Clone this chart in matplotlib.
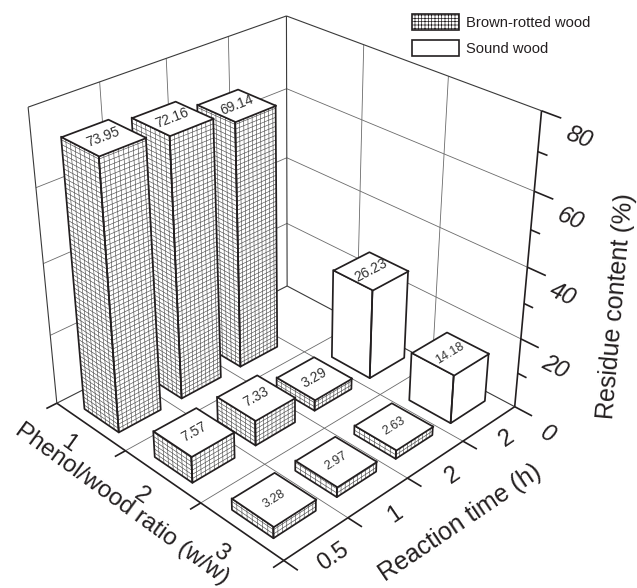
import numpy as np
import matplotlib
matplotlib.use("Agg")
import matplotlib.pyplot as plt
from matplotlib.patches import Patch
from mpl_toolkits.mplot3d import proj3d
from mpl_toolkits.mplot3d.art3d import Poly3DCollection, Line3DCollection

plt.rcParams['font.family'] = ['Liberation Sans', 'DejaVu Sans']
plt.rcParams['hatch.linewidth'] = 0.5

# ---- data
ratio_labels = ['1', '2', '3']
time_labels = ['0.5', '1', '2', '2']
ratio1_values = [73.95, 72.16, 69.14, None]
ratio2_values = [7.57, 7.33, 3.29, 26.23]
ratio3_values = [3.28, 2.97, 2.63, 14.18]
ratio1_kinds = ['brown', 'brown', 'brown', None]
ratio2_kinds = ['brown', 'brown', 'brown', 'sound']
ratio3_kinds = ['brown', 'brown', 'brown', 'sound']
z_ticks = [0, 20, 40, 60, 80]
z_minor = [10, 30, 50, 70]
legend_labels = ['Brown-rotted wood', 'Sound wood']

W, H = 637, 588
INK = '#231f20'
fig = plt.figure(figsize=(W / 100, H / 100), dpi=100)
ax = fig.add_axes([0, (H - W) / 2 / H, 1, W / H], projection='3d', computed_zorder=False)
ax.set_axis_off()
ax.apply_aspect()

# ---- camera of the reference: (x along ratio, y along time, z value) -> picture pixel
camera_world = np.array([
    (0, 0, 0), (3, 0, 0), (3, 4, 0), (0, 4, 0), (0, 0, 80), (3, 4, 80), (0, 4, 80),
    (1, 0, 0), (2, 0, 0), (3, 1, 0), (3, 2, 0), (3, 3, 0)], float)
camera_pixel = np.array([
    (57, 403), (283, 560), (513, 406), (287, 287), (28, 108), (541, 111), (287, 15),
    (125, 450), (200, 502), (350, 520), (407, 478), (465, 441)], float)
view = ax.transData.inverted().transform(np.c_[camera_pixel[:, 0], H - camera_pixel[:, 1]])
rows, rhs = [], []
for (x, y, z), (u, v) in zip(camera_world, view):
    rows.append([x, y, z, 1, 0, 0, 0, 0, -u * x, -u * y, -u * z]); rhs.append(u)
    rows.append([0, 0, 0, 0, x, y, z, 1, -v * x, -v * y, -v * z]); rhs.append(v)
p = np.linalg.lstsq(np.array(rows), np.array(rhs), rcond=None)[0]
M = np.array([[p[0], p[1], p[2], p[3]],
              [p[4], p[5], p[6], p[7]],
              [0, 0, 0, 1.0],
              [p[8], p[9], p[10], 1.0]])
ax.get_proj = lambda: M


def lines3d(segs, color, lw, zorder):
    ax.add_collection3d(Line3DCollection(segs, colors=color, linewidths=lw, zorder=zorder))


def label3d(x, y, z, s, direction, **kw):
    """Text anchored at a 3D point, turned along a 3D direction as the camera sees it."""
    ux, uy, _ = proj3d.proj_transform(x, y, z, M)
    dx, dy, dz = direction
    vx, vy, _ = proj3d.proj_transform(x + dx, y + dy, z + dz, M)
    a, b = ax.transData.transform([(ux, uy), (vx, vy)])
    angle = np.degrees(np.arctan2(b[1] - a[1], b[0] - a[0]))
    ax.text2D(ux, uy, s, rotation=angle, ha='center', va='center',
              rotation_mode='anchor', transform=ax.transData, **kw)


nx, ny, ztop = len(ratio_labels), len(time_labels), z_ticks[-1]
thin, dark = '#6a6a6a', INK

# walls and floor
grid = []
for yy in range(1, ny):
    grid.append([(0, yy, 0), (0, yy, ztop)])
    grid.append([(0, yy, 0), (nx, yy, 0)])
for xx in range(1, nx):
    grid.append([(xx, ny, 0), (xx, ny, ztop)])
    grid.append([(xx, 0, 0), (xx, ny, 0)])
for zz in z_ticks[1:-1]:
    grid.append([(0, 0, zz), (0, ny, zz)])
    grid.append([(0, ny, zz), (nx, ny, zz)])
lines3d(grid, thin, 0.6, 1)
lines3d([[(0, 0, 0), (0, 0, ztop)], [(0, 0, ztop), (0, ny, ztop)],
         [(0, ny, 0), (0, ny, ztop)], [(0, ny, ztop), (nx, ny, ztop)],
         [(0, ny, 0), (0, 0, 0)], [(0, ny, 0), (nx, ny, 0)]], '#3a3a3a', 0.8, 2)

# axes and ticks
axes_seg = [[(0, 0, 0), (nx, 0, 0)], [(nx, 0, 0), (nx, ny, 0)], [(nx, ny, 0), (nx, ny, ztop)]]
for xx in range(nx + 1):
    axes_seg.append([(xx, 0, 0), (xx, -0.16, 0)])
for yy in range(ny):
    axes_seg.append([(nx, yy, 0), (nx + 0.16, yy, 0)])
for zz in z_ticks:
    axes_seg.append([(nx, ny, zz), (nx + 0.2, ny, zz)])
for zz in z_minor:
    axes_seg.append([(nx, ny, zz), (nx + 0.1, ny, zz)])
lines3d(axes_seg, dark, 1.2, 3)

# bars
HX, HY = 0.25, 0.33
GX, GY, GZ = 0.062, 0.068, 1.2
CLEAR = (1, 1, 1, 0)
order = 10
for ix, (vals, kinds) in enumerate([(ratio1_values, ratio1_kinds),
                                    (ratio2_values, ratio2_kinds),
                                    (ratio3_values, ratio3_kinds)]):
    for iy in range(ny - 1, -1, -1):
        v = vals[iy]
        if v is None:
            continue
        x0, x1 = ix + 0.5 - HX, ix + 0.5 + HX
        y0, y1 = iy + 0.5 - HY, iy + 0.5 + HY
        left = [(x0, y0, 0), (x1, y0, 0), (x1, y0, v), (x0, y0, v)]
        right = [(x1, y0, 0), (x1, y1, 0), (x1, y1, v), (x1, y0, v)]
        top = [(x0, y0, v), (x1, y0, v), (x1, y1, v), (x0, y1, v)]
        ax.add_collection3d(Poly3DCollection([left, right], facecolors='white',
                                             edgecolors='white', linewidths=0.2, zorder=order))
        if kinds[iy] == 'brown':
            hatch = []
            for xx in np.arange(x0 + GX, x1, GX):
                hatch.append([(xx, y0, 0), (xx, y0, v)])
            for yy in np.arange(y0 + GY, y1, GY):
                hatch.append([(x1, yy, 0), (x1, yy, v)])
            for zz in np.arange(GZ, v, GZ):
                hatch.append([(x0, y0, zz), (x1, y0, zz)])
                hatch.append([(x1, y0, zz), (x1, y1, zz)])
            lines3d(hatch, '#444444', 0.42, order + 1)
        ax.add_collection3d(Poly3DCollection([left, right], facecolors=[CLEAR],
                                             edgecolors=INK, linewidths=1.25, zorder=order + 2))
        ax.add_collection3d(Poly3DCollection([top], facecolors='white',
                                             edgecolors=INK, linewidths=1.25, zorder=order + 3))
        label3d(ix + 0.5, iy + 0.5, v, f'{v:.2f}', (0, 1, 0),
                fontsize=9 if ix == 2 else 10, color='#333333', zorder=order + 4)
        order += 5

# tick labels
for i, t in enumerate(ratio_labels):
    label3d(i + 0.58, -0.4, 0, t, (1, 0, 0), fontsize=17, color=INK, zorder=500)
for i, t in enumerate(time_labels):
    label3d(nx + 0.25, i + 0.42, 0, t, (0, 1, 0), fontsize=17, color=INK, zorder=500)
for zz in z_ticks:
    label3d(nx + 0.39, ny, zz - 3, str(zz), (1, 0, 0), fontsize=17, color=INK,
            style='italic', zorder=500)

# axis titles
fig.text(122 / W, 1 - 504 / H, 'Phenol/wood ratio (w/w)', rotation=-36, ha='center', va='center',
         rotation_mode='anchor', fontsize=17.5, color=INK)
fig.text(460 / W, 1 - 523 / H, 'Reaction time (h)', rotation=34, ha='center', va='center',
         rotation_mode='anchor', fontsize=18, color=INK)
fig.text(616 / W, 1 - 306 / H, 'Residue content (%)', rotation=85, ha='center', va='center',
         rotation_mode='anchor', fontsize=18, color=INK)

# legend
handles = [Patch(facecolor='white', edgecolor=INK, hatch='+++++', linewidth=1.2),
           Patch(facecolor='white', edgecolor=INK, linewidth=1.2)]
fig.legend(handles, legend_labels, loc='upper left', bbox_to_anchor=(399 / W, 1 - 1 / H),
           frameon=False, fontsize=10.6, handlelength=3.2, handleheight=1.22,
           labelspacing=0.72, handletextpad=0.42, labelcolor=INK)

fig.savefig('out.png', dpi=100)
